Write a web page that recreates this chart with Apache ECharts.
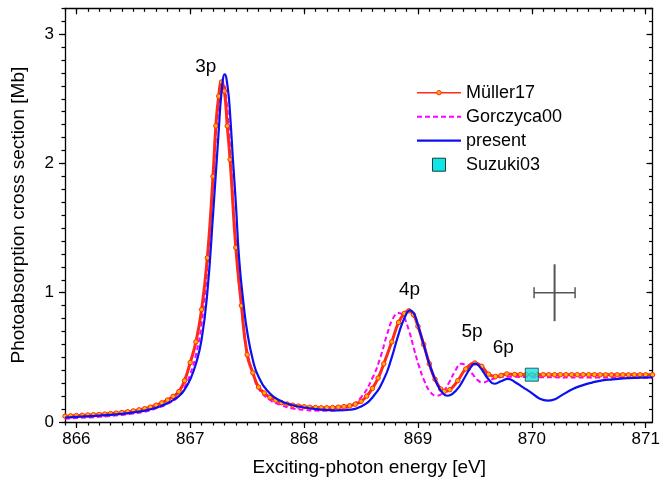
<!DOCTYPE html>
<html>
<head>
<meta charset="utf-8">
<script src="https://cdn.jsdelivr.net/npm/echarts@6/dist/echarts.min.js"></script>
<style>html,body{margin:0;padding:0;background:#fff}#c{width:669px;height:482px}</style>
</head>
<body>
<div id="c"></div>
<script>
// ---- data ----
const muellerE = [865.9,865.95,866.0,866.05,866.1,866.15,866.2,866.25,866.3,866.35,866.4,866.45,866.5,866.55,866.6,866.65,866.7,866.75,866.8,866.85,866.9,866.95,867.0,867.05,867.1,867.15,867.2,867.225,867.25,867.275,867.3,867.325,867.35,867.4,867.45,867.5,867.55,867.6,867.65,867.7,867.75,867.8,867.85,867.9,867.95,868.0,868.05,868.1,868.15,868.2,868.25,868.3,868.35,868.4,868.45,868.5,868.55,868.6,868.65,868.7,868.77,868.83,868.88,868.92,868.96,869.0,869.05,869.1,869.15,869.2,869.23,869.28,869.35,869.42,869.5,869.56,869.62,869.68,869.73,869.78,869.85,869.9,869.95,870.0,870.05,870.1,870.15,870.2,870.25,870.3,870.35,870.4,870.45,870.5,870.55,870.6,870.65,870.7,870.75,870.8,870.85,870.9,870.95,871.0,871.06];
const muellerS = [0.045,0.047,0.05,0.052,0.054,0.056,0.058,0.061,0.065,0.069,0.073,0.079,0.086,0.094,0.103,0.115,0.13,0.148,0.17,0.198,0.235,0.32,0.46,0.62,0.87,1.27,1.9,2.29,2.52,2.63,2.56,2.29,2.03,1.35,0.9,0.52,0.38,0.27,0.225,0.19,0.168,0.15,0.139,0.13,0.123,0.118,0.114,0.112,0.11,0.11,0.112,0.115,0.119,0.125,0.138,0.16,0.2,0.26,0.34,0.45,0.62,0.77,0.84,0.86,0.83,0.74,0.6,0.45,0.33,0.255,0.237,0.25,0.32,0.41,0.456,0.43,0.37,0.352,0.36,0.372,0.368,0.367,0.366,0.366,0.366,0.366,0.366,0.366,0.366,0.366,0.366,0.366,0.366,0.366,0.366,0.365,0.365,0.365,0.365,0.365,0.365,0.365,0.365,0.365,0.365];

const gorczycaE = [865.9,866.0,866.2,866.4,866.5,866.6,866.7,866.8,866.9,866.95,867.0,867.05,867.1,867.15,867.2,867.25,867.29,867.32,867.35,867.4,867.45,867.5,867.55,867.6,867.7,867.8,867.9,868.0,868.1,868.2,868.3,868.4,868.5,868.6,868.67,868.73,868.78,868.83,868.87,868.92,868.97,869.01,869.06,869.11,869.16,869.21,869.27,869.33,869.38,869.43,869.48,869.53,869.57,869.62,869.7,869.8,870.0,870.5,871.06];
const gorczycaS = [0.025,0.03,0.04,0.055,0.065,0.08,0.105,0.14,0.2,0.27,0.37,0.52,0.76,1.2,1.85,2.45,2.62,2.47,2.12,1.38,0.88,0.55,0.38,0.26,0.17,0.13,0.105,0.095,0.088,0.087,0.092,0.12,0.19,0.34,0.5,0.68,0.8,0.843,0.82,0.71,0.55,0.43,0.31,0.23,0.203,0.22,0.3,0.4,0.451,0.43,0.37,0.32,0.306,0.32,0.343,0.35,0.347,0.344,0.343];

const presentE = [865.9,866.0,866.2,866.4,866.5,866.6,866.7,866.8,866.9,866.95,867.0,867.05,867.1,867.15,867.2,867.25,867.275,867.303,867.33,867.35,867.375,867.4,867.43,867.47,867.5,867.55,867.6,867.7,867.8,867.9,868.0,868.1,868.2,868.3,868.4,868.5,868.6,868.7,868.77,868.83,868.88,868.93,868.97,869.0,869.05,869.1,869.17,869.22,869.26,869.3,869.36,869.42,869.47,869.5,869.54,869.58,869.62,869.67,869.73,869.79,869.85,869.92,870.0,870.07,870.14,870.2,870.25,870.36,870.45,870.53,870.62,870.71,870.85,871.06];
const presentS = [0.035,0.04,0.05,0.063,0.074,0.088,0.11,0.145,0.2,0.25,0.33,0.45,0.64,1.0,1.6,2.25,2.55,2.69,2.58,2.38,2.03,1.7,1.255,0.9,0.7,0.48,0.35,0.22,0.16,0.13,0.112,0.1,0.093,0.09,0.095,0.12,0.19,0.33,0.5,0.68,0.8,0.863,0.83,0.75,0.6,0.45,0.29,0.22,0.203,0.215,0.27,0.36,0.43,0.451,0.43,0.38,0.33,0.296,0.315,0.333,0.31,0.27,0.224,0.18,0.165,0.175,0.2,0.255,0.285,0.305,0.322,0.33,0.34,0.345];

const suzukiE = [870.0];
const suzukiS = [0.366];

// error-bar cross: centre energy, centre value, half-width (eV), half-height (Mb)
const crossPoint = [870.2, 1.0, 0.18, 0.22];

const peakNames = ['3p', '4p', '5p', '6p'];
const peakLabelE = [867.137, 868.926, 869.475, 869.75];
const peakLabelS = [2.75, 1.02, 0.70, 0.575];

const seriesNames = ['Müller17', 'Gorczyca00', 'present', 'Suzuki03'];

const xMajor = [866, 867, 868, 869, 870, 871];
const xMinor = [865.9,866.0,866.1,866.2,866.3,866.4,866.5,866.6,866.7,866.8,866.9,867.0,867.1,867.2,867.3,867.4,867.5,867.6,867.7,867.8,867.9,868.0,868.1,868.2,868.3,868.4,868.5,868.6,868.7,868.8,868.9,869.0,869.1,869.2,869.3,869.4,869.5,869.6,869.7,869.8,869.9,870.0,870.1,870.2,870.3,870.4,870.5,870.6,870.7,870.8,870.9,871.0];
const yMajor = [0, 1, 2, 3];
const yMinor = [0,0.1,0.2,0.3,0.4,0.5,0.6,0.7,0.8,0.9,1.0,1.1,1.2,1.3,1.4,1.5,1.6,1.7,1.8,1.9,2.0,2.1,2.2,2.3,2.4,2.5,2.6,2.7,2.8,2.9,3.0,3.1,3.2];

const X_MIN = 865.9, X_MAX = 871.06, Y_MIN = 0, Y_MAX = 3.2;

// ---- build ----
const zip = (a, b) => a.map((v, i) => [v, b[i]]);
const FONT = 'Liberation Sans, Arial, sans-serif';
const AXC = '#000';
const C_RED = '#FF2A1A', C_ORG = '#FFB400', C_MAG = '#FF00FF', C_BLUE = '#0A10F0', C_CYAN = '#10E6E6';

function xAx(pos, ticks, len, inside, line, labels, extra) {
  return Object.assign({
    type: 'value', position: pos, min: X_MIN, max: X_MAX,
    axisLine: { show: line, onZero: false, lineStyle: { color: AXC, width: 1.3 } },
    axisTick: { show: true, customValues: ticks, length: len, inside: inside, lineStyle: { color: AXC, width: 1.2 } },
    axisLabel: labels ? { customValues: xMajor, fontSize: 17, margin: 9, color: '#000', fontFamily: FONT } : { show: false },
    splitLine: { show: false }
  }, extra || {});
}
function yAx(pos, ticks, len, inside, line, labels, extra) {
  return Object.assign({
    type: 'value', position: pos, min: Y_MIN, max: Y_MAX,
    axisLine: { show: line, onZero: false, lineStyle: { color: AXC, width: 1.3 } },
    axisTick: { show: true, customValues: ticks, length: len, inside: inside, lineStyle: { color: AXC, width: 1.2 } },
    axisLabel: labels ? { customValues: yMajor, fontSize: 17, margin: 11, color: '#000', fontFamily: FONT } : { show: false },
    splitLine: { show: false }
  }, extra || {});
}

// legend drawn as graphic (icon box 417..461, text at 466, rows 24 px apart)
const LX = 417, LW = 44, LY0 = 92.7, LDY = 24;
const legendGraphic = [];
seriesNames.forEach((n, i) => {
  const y = LY0 + i * LDY;
  if (i === 0) {
    legendGraphic.push({ type: 'line', shape: { x1: LX, y1: y, x2: LX + LW, y2: y }, style: { stroke: C_RED, lineWidth: 1.5 } });
    legendGraphic.push({ type: 'circle', shape: { cx: LX + LW / 2, cy: y, r: 2.2 }, style: { fill: C_ORG, stroke: C_RED, lineWidth: 1 } });
  } else if (i === 1) {
    legendGraphic.push({ type: 'line', shape: { x1: LX, y1: y, x2: LX + LW, y2: y }, style: { stroke: C_MAG, lineWidth: 2, lineDash: [5, 3] } });
  } else if (i === 2) {
    legendGraphic.push({ type: 'line', shape: { x1: LX, y1: y, x2: LX + LW, y2: y }, style: { stroke: C_BLUE, lineWidth: 2.2 } });
  } else {
    legendGraphic.push({ type: 'rect', shape: { x: LX + LW / 2 - 6.5, y: y - 6.5, width: 13, height: 13 }, style: { fill: C_CYAN, stroke: '#1a3a3a', lineWidth: 1 } });
  }
  legendGraphic.push({ type: 'text', x: LX + LW + 5, y: y, style: { text: n, fill: '#000', font: '18px ' + FONT, textAlign: 'left', textVerticalAlign: 'middle' } });
});

const chart = echarts.init(document.getElementById('c'), null, { renderer: 'canvas' });
chart.setOption({
  animation: false,
  backgroundColor: '#fff',
  grid: { left: 65, right: 16.5, top: 8.3, bottom: 59.7, containLabel: false },
  xAxis: [
    xAx('bottom', xMajor, 6, false, true, true, {
      name: 'Exciting-photon energy [eV]', nameLocation: 'middle', nameGap: 36,
      nameTextStyle: { fontSize: 19, color: '#000', fontFamily: FONT, padding: [0, 0, 0, 21] }
    }),
    xAx('bottom', xMinor, 3.5, false, false, false),
    xAx('top', xMajor, 6, true, true, false),
    xAx('top', xMinor, 3.5, true, false, false)
  ],
  yAxis: [
    yAx('left', yMajor, 6, false, true, true, {
      name: 'Photoabsorption cross section [Mb]', nameLocation: 'middle', nameGap: 37,
      nameTextStyle: { fontSize: 19, color: '#000', fontFamily: FONT }
    }),
    yAx('left', yMinor, 3.5, false, false, false),
    yAx('right', yMajor, 6, true, true, false),
    yAx('right', yMinor, 3.5, true, false, false)
  ],
  graphic: legendGraphic,
  series: [
    {
      name: 'Gorczyca00', type: 'line', xAxisIndex: 0, yAxisIndex: 0,
      data: zip(gorczycaE, gorczycaS), smooth: 0.5,
      symbol: 'none', lineStyle: { color: C_MAG, width: 2, type: [5, 3] },
      itemStyle: { color: C_MAG }, z: 3
    },
    {
      name: 'Müller17', type: 'line', xAxisIndex: 0, yAxisIndex: 0,
      data: zip(muellerE, muellerS), smooth: 0.5,
      symbol: 'circle', symbolSize: 4.5, showSymbol: true, showAllSymbol: true,
      lineStyle: { color: C_RED, width: 3 },
      itemStyle: { color: C_ORG, borderColor: C_RED, borderWidth: 1 }, z: 4
    },
    {
      name: 'present', type: 'line', xAxisIndex: 0, yAxisIndex: 0,
      data: zip(presentE, presentS), smooth: 0.5,
      symbol: 'none', lineStyle: { color: C_BLUE, width: 2.2 },
      itemStyle: { color: C_BLUE }, z: 5
    },
    {
      name: 'Suzuki03', type: 'scatter', xAxisIndex: 0, yAxisIndex: 0,
      data: zip(suzukiE, suzukiS), symbol: 'rect', symbolSize: 13,
      itemStyle: { color: C_CYAN, borderColor: '#1a3a3a', borderWidth: 1 }, z: 6
    },
    {
      type: 'custom', xAxisIndex: 0, yAxisIndex: 0, silent: true, z: 6,
      data: [crossPoint],
      renderItem: function (params, api) {
        const x = api.value(0), y = api.value(1), dx = api.value(2), dy = api.value(3);
        const l = api.coord([x - dx, y]), r = api.coord([x + dx, y]);
        const t = api.coord([x, y + dy]), b = api.coord([x, y - dy]);
        const cap = 5.5, st = { stroke: '#555', lineWidth: 1.5 };
        return { type: 'group', children: [
          { type: 'line', shape: { x1: l[0], y1: l[1], x2: r[0], y2: r[1] }, style: st },
          { type: 'line', shape: { x1: t[0], y1: t[1], x2: b[0], y2: b[1] }, style: { stroke: '#555', lineWidth: 2 } },
          { type: 'line', shape: { x1: l[0], y1: l[1] - cap, x2: l[0], y2: l[1] + cap }, style: st },
          { type: 'line', shape: { x1: r[0], y1: r[1] - cap, x2: r[0], y2: r[1] + cap }, style: st }
        ] };
      }
    },
    {
      type: 'custom', xAxisIndex: 0, yAxisIndex: 0, silent: true, z: 7,
      data: peakNames.map((n, i) => [peakLabelE[i], peakLabelS[i]]),
      renderItem: function (params, api) {
        const c = api.coord([api.value(0), api.value(1)]);
        return { type: 'text', x: c[0], y: c[1], style: {
          text: peakNames[params.dataIndex], fill: '#000', font: '19px ' + FONT,
          textAlign: 'center', textVerticalAlign: 'middle'
        } };
      }
    }
  ]
});
</script>
</body>
</html>
